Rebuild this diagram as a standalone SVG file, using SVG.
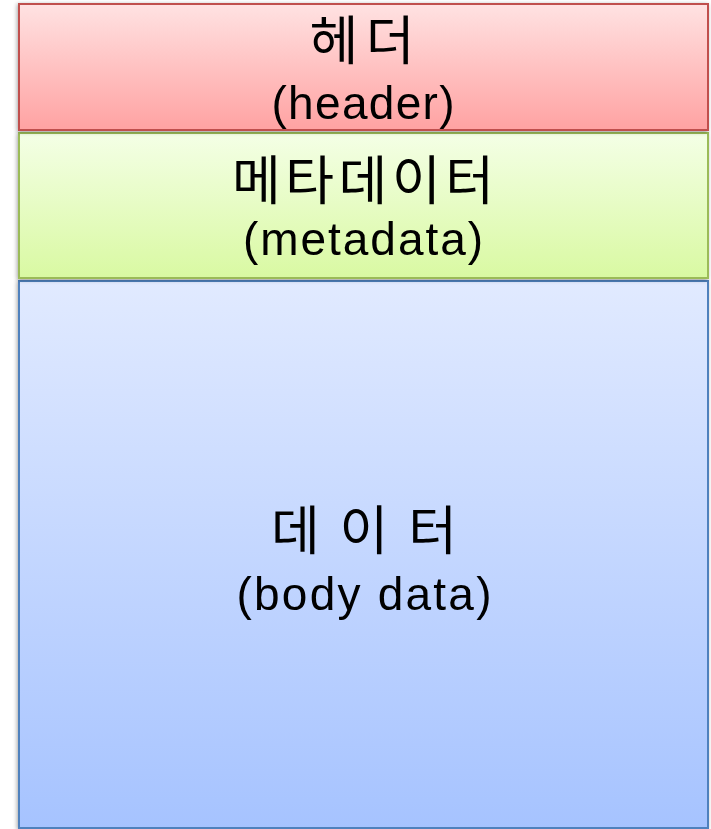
<svg xmlns="http://www.w3.org/2000/svg" width="711" height="829" viewBox="0 0 711 829">
<defs>
<linearGradient id="gH" x1="0" y1="0" x2="0" y2="1"><stop offset="0" stop-color="#ffe2e2"/><stop offset="1" stop-color="#ffa2a2"/></linearGradient>
<linearGradient id="gM" x1="0" y1="0" x2="0" y2="1"><stop offset="0" stop-color="#f4ffe6"/><stop offset="1" stop-color="#d9f9a2"/></linearGradient>
<linearGradient id="gB" x1="0" y1="0" x2="0" y2="1"><stop offset="0" stop-color="#e1eaff"/><stop offset="1" stop-color="#a6c3ff"/></linearGradient>
<filter id="sh" x="-5%" y="-5%" width="110%" height="110%"><feGaussianBlur in="SourceAlpha" stdDeviation="2"/><feOffset dx="-1" dy="1"/><feComponentTransfer><feFuncA type="linear" slope="0.35"/></feComponentTransfer><feMerge><feMergeNode/><feMergeNode in="SourceGraphic"/></feMerge></filter>
</defs>
<style>
.ko{font-family:"Noto Sans CJK KR","Noto Sans",sans-serif;font-size:53px;fill:#000;text-anchor:middle}
.en{font-family:"Liberation Sans","Noto Sans",sans-serif;font-size:46px;fill:#000;text-anchor:middle}
</style>
<g id="body" filter="url(#sh)">
<rect x="19" y="281" width="689" height="547" fill="url(#gB)" stroke="#4f81bd" stroke-width="2"/>
<text class="ko" x="364" y="550" textLength="186" lengthAdjust="spacing">데이터</text>
<text class="en" x="364" y="610" textLength="255" lengthAdjust="spacing">(body data)</text>
</g>
<g id="metadata" filter="url(#sh)">
<rect x="19" y="133" width="689" height="145" fill="url(#gM)" stroke="#9bbb59" stroke-width="2"/>
<text class="ko" x="363" y="200" textLength="262" lengthAdjust="spacing">메타데이터</text>
<text class="en" x="363" y="255" textLength="240" lengthAdjust="spacing">(metadata)</text>
</g>
<g id="header" filter="url(#sh)">
<rect x="19" y="4" width="689" height="126" fill="url(#gH)" stroke="#c0504d" stroke-width="2"/>
<text class="ko" x="362" y="60" textLength="105" lengthAdjust="spacing">헤더</text>
<text class="en" x="363" y="119" textLength="183" lengthAdjust="spacing">(header)</text>
</g>
</svg>
